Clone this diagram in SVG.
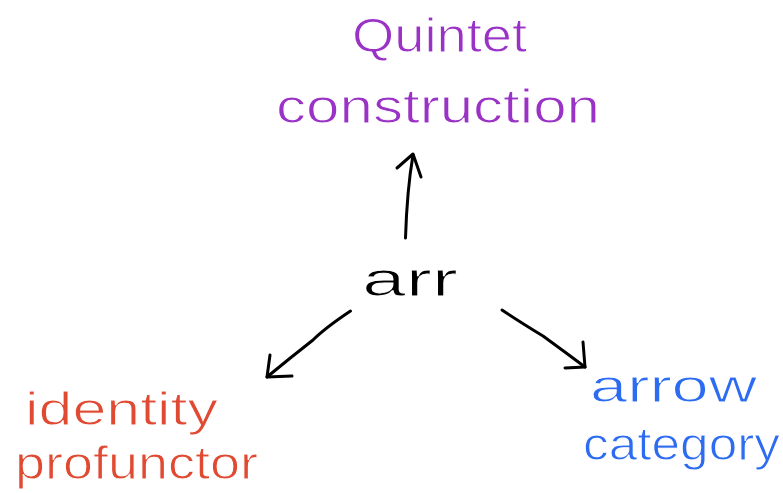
<svg xmlns="http://www.w3.org/2000/svg" width="783" height="493" viewBox="0 0 783 493">
<style>
text{font-family:"Liberation Sans",Arial,sans-serif;font-weight:normal;font-size:48px;stroke:#fff;stroke-width:1}
.sm{font-size:46px}
.p{fill:#9a32c6}
.r{fill:#e04a32}
.b{fill:#2d6cf0}
.k{fill:#000}
.c{fill:none;stroke:#000;stroke-width:3;stroke-linecap:round;stroke-linejoin:round}
</style>
<rect width="783" height="493" fill="#fff"/>
<g id="quintet">
<text class="p" x="352" y="52" textLength="175" lengthAdjust="spacingAndGlyphs">Quintet</text>
<text class="p" x="276" y="123" textLength="324" lengthAdjust="spacingAndGlyphs">construction</text>
</g>
<g id="arr">
<text class="k" x="362" y="296" textLength="96" lengthAdjust="spacingAndGlyphs">arr</text>
</g>
<g id="identity">
<text class="r sm" x="25" y="425" textLength="193" lengthAdjust="spacingAndGlyphs">identity</text>
<text class="r sm" x="15" y="479" textLength="243" lengthAdjust="spacingAndGlyphs">profunctor</text>
</g>
<g id="arrowcat">
<text class="b sm" x="590" y="402" textLength="167" lengthAdjust="spacingAndGlyphs">arrow</text>
<text class="b sm" x="583" y="460" textLength="197" lengthAdjust="spacingAndGlyphs">category</text>
</g>
<g id="connectors">
<path class="c" d="M405.5,238 Q407,190 413,155"/>
<path class="c" d="M397,168 L413,154 L421,177"/>
<path class="c" d="M350.5,311 Q325,328 313,340 Q290,358 267,377"/>
<path class="c" d="M270,355 L267,377 L292,376"/>
<path class="c" d="M502,310 Q520,322 543,336 Q565,352 585,367"/>
<path class="c" d="M583,342 L585,367 L565,368"/>
</g>
</svg>
